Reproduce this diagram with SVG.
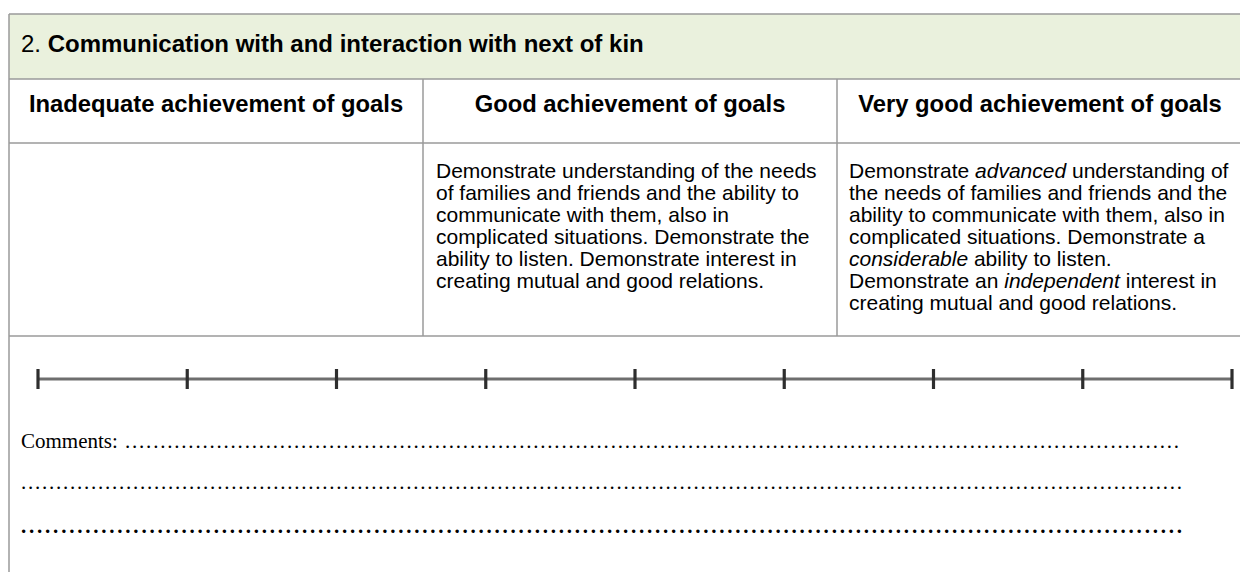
<svg xmlns="http://www.w3.org/2000/svg" width="1240" height="572" viewBox="0 0 1240 572">
  <style>
    .rule { stroke: #9a9a9a; stroke-width: 1.5; fill: none; }
    .title { font-family: "Liberation Sans", Arial, sans-serif; font-size: 24px; fill: #000; }
    .head { font-family: "Liberation Sans", Arial, sans-serif; font-size: 23.8px; font-weight: bold; fill: #000; text-anchor: middle; }
    .body { font-family: "Liberation Sans", Arial, sans-serif; font-size: 21px; fill: #000; }
    .serif { font-family: "Liberation Serif", "Times New Roman", serif; font-size: 21px; fill: #000; }
    .axis { stroke: #6e6e6e; stroke-width: 3; }
    .tick { stroke: #2e2e2e; stroke-width: 3.2; }
  </style>
  <defs>
    <filter id="soft" x="-5%" y="-50%" width="110%" height="200%">
      <feGaussianBlur stdDeviation="0.7"/>
    </filter>
  </defs>
  <rect x="0" y="0" width="1240" height="572" fill="#ffffff"/>

  <g id="table">
    <rect x="9" y="14" width="1240" height="65" fill="#EAF1DD"/>
    <line class="rule" x1="9" y1="14" x2="1240" y2="14"/>
    <line class="rule" x1="9" y1="14" x2="9" y2="572"/>
    <line class="rule" x1="9" y1="79" x2="1240" y2="79"/>
    <line class="rule" x1="9" y1="143" x2="1240" y2="143"/>
    <line class="rule" x1="9" y1="336" x2="1240" y2="336"/>
    <line class="rule" x1="423" y1="79" x2="423" y2="336"/>
    <line class="rule" x1="837" y1="79" x2="837" y2="336"/>
  </g>

  <g id="title">
    <text class="title" x="21" y="52">2. <tspan font-weight="bold">Communication with and interaction with next of kin</tspan></text>
  </g>

  <g id="header-inadequate">
    <text class="head" x="216" y="112">Inadequate achievement of goals</text>
  </g>
  <g id="header-good">
    <text class="head" x="630" y="112">Good achievement of goals</text>
  </g>
  <g id="header-verygood">
    <text class="head" x="1040" y="112">Very good achievement of goals</text>
  </g>

  <g id="cell-good">
    <text class="body" x="436" y="178">Demonstrate understanding of the needs</text>
    <text class="body" x="436" y="200">of families and friends and the ability to</text>
    <text class="body" x="436" y="222">communicate with them, also in</text>
    <text class="body" x="436" y="244">complicated situations. Demonstrate the</text>
    <text class="body" x="436" y="266">ability to listen. Demonstrate interest in</text>
    <text class="body" x="436" y="288">creating mutual and good relations.</text>
  </g>

  <g id="cell-verygood">
    <text class="body" x="849" y="178">Demonstrate <tspan font-style="italic">advanced</tspan> understanding of</text>
    <text class="body" x="849" y="200">the needs of families and friends and the</text>
    <text class="body" x="849" y="222">ability to communicate with them, also in</text>
    <text class="body" x="849" y="244">complicated situations. Demonstrate a</text>
    <text class="body" x="849" y="266"><tspan font-style="italic">considerable</tspan> ability to listen.</text>
    <text class="body" x="849" y="288">Demonstrate an <tspan font-style="italic">independent</tspan> interest in</text>
    <text class="body" x="849" y="310">creating mutual and good relations.</text>
  </g>

  <g id="scale" filter="url(#soft)">
    <line class="axis" x1="38" y1="379" x2="1232" y2="379"/>
    <line class="tick" x1="38" y1="369" x2="38" y2="389"/>
    <line class="tick" x1="187.25" y1="369" x2="187.25" y2="389"/>
    <line class="tick" x1="336.5" y1="369" x2="336.5" y2="389"/>
    <line class="tick" x1="485.75" y1="369" x2="485.75" y2="389"/>
    <line class="tick" x1="635" y1="369" x2="635" y2="389"/>
    <line class="tick" x1="784.25" y1="369" x2="784.25" y2="389"/>
    <line class="tick" x1="933.5" y1="369" x2="933.5" y2="389"/>
    <line class="tick" x1="1082.75" y1="369" x2="1082.75" y2="389"/>
    <line class="tick" x1="1232" y1="369" x2="1232" y2="389"/>
  </g>

  <g id="comments">
    <text class="serif" x="21" y="448">Comments:</text>
    <text class="serif" x="125" y="448" textLength="1054" lengthAdjust="spacing">......................................................................................................................................................</text>
    <text class="serif" x="21" y="489" textLength="1161" lengthAdjust="spacing">......................................................................................................................................................................</text>
    <text class="serif" x="21" y="533" font-size="24" font-weight="bold" textLength="1161" lengthAdjust="spacing">.................................................................................................................................................</text>
  </g>
</svg>
